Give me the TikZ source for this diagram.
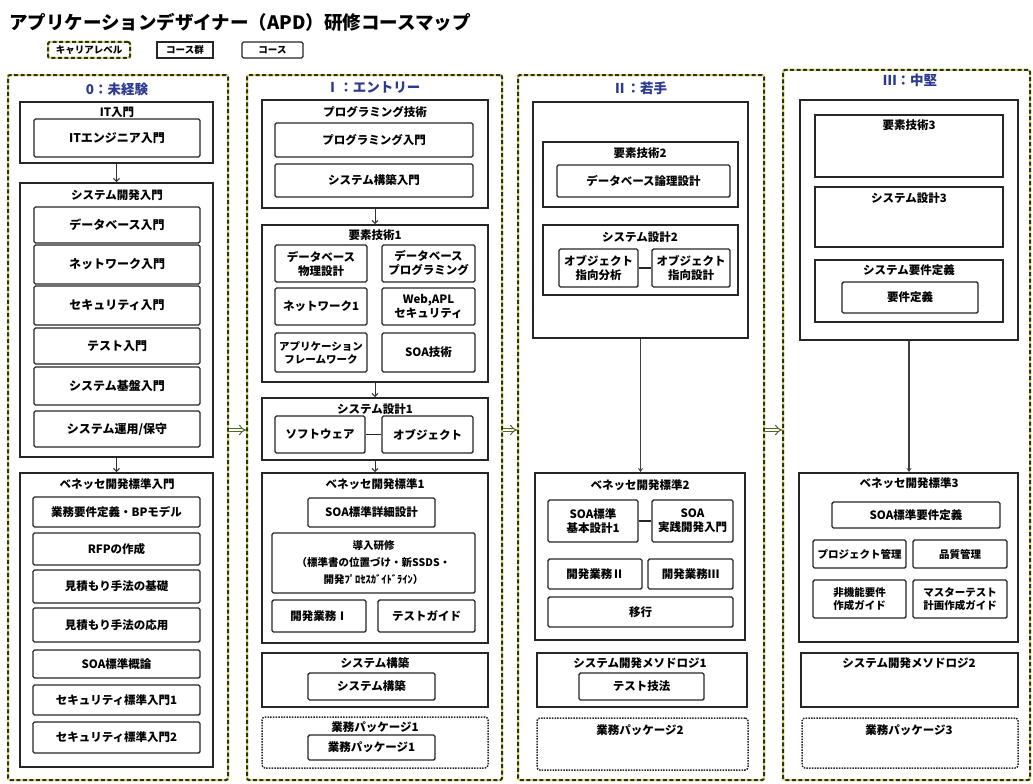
\documentclass[tikz,border=0pt]{standalone}
\usepackage{fontspec}
\setmainfont{Noto Sans CJK JP}
\usetikzlibrary{arrows.meta}
\definecolor{ttlblue}{HTML}{2B3990}
\definecolor{lvldark}{HTML}{2A3318}
\definecolor{lvlyel}{HTML}{E4DC6A}
\definecolor{nxtcol}{HTML}{4C6A22}
\newcommand\bx[7]{\node[#1, minimum width={(#5)-(#3)}, minimum height={(#6)-(#4)}] (#2) at ({((#3)+(#5))/2},{((#4)+(#6))/2}) {#7};}
\tikzset{
  lvl/.style={draw=lvldark, line width=2pt, dash pattern=on 4pt off 2.5pt, rounded corners=2pt,
    preaction={draw=lvlyel, line width=2pt, solid}, inner sep=0pt},
  grp/.style={draw=black!85, line width=1.9pt, fill=white, inner sep=0pt},
  crs/.style={draw=black!85, line width=1.4pt, rounded corners=1.5pt, fill=white, align=center,
    inner sep=0pt, font=\bfseries\fontsize{11.5}{14}\selectfont},
  crsbig/.style={crs, font=\bfseries\fontsize{12}{14}\selectfont},
  crssm/.style={crs, font=\bfseries\fontsize{10.5}{13}\selectfont},
  pkg/.style={draw=black!85, line width=1.5pt, dash pattern=on 1.5pt off 1.2pt, rounded corners=3pt, fill=white, inner sep=0pt},
  glab/.style={font=\bfseries\fontsize{11.5}{13}\selectfont, inner sep=0pt},
  ttl/.style={font=\bfseries\fontsize{13.5}{15}\selectfont, text=ttlblue, inner sep=0pt},
  arr/.style={draw=black!80, line width=1pt, -{Straight Barb[length=3pt,width=6pt]}},
  longarr/.style={draw=black!75, line width=1.5pt, -{Stealth[length=4pt,width=5pt]}},
  link/.style={draw=black!85, line width=1.3pt},
  nxt/.style={draw=nxtcol, line width=1pt, double=white, double distance=2.5pt,
    -{Implies}, shorten <=0pt, shorten >=0pt},
  leg/.style={font=\bfseries\fontsize{9.5}{11}\selectfont, inner sep=0pt}
}
\begin{document}
\begin{tikzpicture}[x=1pt,y=-1pt]
\useasboundingbox[fill=white] (0,0) rectangle (1033,784);
% title
\node[anchor=west, inner sep=0pt, font=\bfseries\fontsize{18.5}{20}\selectfont] (title) at (9,22) {アプリケーションデザイナー（APD）研修コースマップ};
% legend
\bx{lvl, leg}{legl}{48}{42}{130}{58}{キャリアレベル}
\bx{grp, leg}{legg}{157}{42}{213}{58}{コース群}
\bx{crs, leg, line width=1.2pt}{legc}{242}{42}{303}{58}{コース}
% level frames
\bx{lvl}{c0}{8}{75}{228}{780}{}
\bx{lvl}{c1}{247}{75}{502}{780}{}
\bx{lvl}{c2}{518}{75}{764}{780}{}
\bx{lvl}{c3}{783}{70}{1030}{780}{}
\node[ttl] (t0) at (117,89) {0：未経験};
\node[ttl] (t1) at (373,88) {Ⅰ：エントリー};
\node[ttl] (t2) at (640,88) {Ⅱ：若手};
\node[ttl] (t3) at (910,80) {Ⅲ：中堅};
% ---------- column 0
\bx{grp}{g01}{20}{102}{213}{163}{}
\node[glab] (g01l) at (117,112) {IT入門};
\bx{crsbig}{k011}{34}{119}{200}{157}{ITエンジニア入門}
\bx{grp}{g02}{20}{183}{213}{457}{}
\node[glab] (g02l) at (117,195) {システム開発入門};
\bx{crsbig}{k021}{34}{207}{200}{243}{データベース入門}
\bx{crsbig}{k022}{34}{245}{200}{284}{ネットワーク入門}
\bx{crsbig}{k023}{34}{286}{200}{325}{セキュリティ入門}
\bx{crsbig}{k024}{34}{328}{200}{364}{テスト入門}
\bx{crsbig}{k025}{34}{367}{200}{405}{システム基盤入門}
\bx{crsbig}{k026}{34}{411}{200}{447}{システム運用/保守}
\bx{grp}{g03}{20}{473}{213}{767}{}
\node[glab] (g03l) at (117,484) {ベネッセ開発標準入門};
\bx{crs}{k031}{33}{497}{200}{527}{業務要件定義・BPモデル}
\bx{crs}{k032}{33}{533}{200}{565}{RFPの作成}
\bx{crs}{k033}{33}{570}{200}{603}{見積もり手法の基礎}
\bx{crs}{k034}{33}{608}{200}{642}{見積もり手法の応用}
\bx{crs}{k035}{33}{650}{200}{678}{SOA標準概論}
\bx{crs}{k036}{33}{685}{200}{715}{セキュリティ標準入門1}
\bx{crs}{k037}{33}{722}{200}{753}{セキュリティ標準入門2}
\draw[arr] (g01.south) -- (g02.north);
\draw[arr] (g02.south) -- (g03.north);
% ---------- column I
\bx{grp}{g11}{262}{100}{488}{208}{}
\node[glab] (g11l) at (375,112) {プログラミング技術};
\bx{crs}{k111}{275}{123}{473}{157}{プログラミング入門}
\bx{crs}{k112}{275}{164}{473}{197}{システム構築入門}
\bx{grp}{g12}{262}{225}{488}{382}{}
\node[glab] (g12l) at (375,235) {要素技術1};
\bx{crs}{k121}{275}{245}{367}{282}{データベース\\物理設計}
\bx{crs}{k122}{382}{245}{475}{282}{データベース\\プログラミング}
\bx{crs}{k123}{275}{288}{367}{325}{ネットワーク1}
\bx{crs}{k124}{382}{288}{475}{325}{Web,APL\\セキュリティ}
\bx{crssm}{k125}{275}{333}{367}{372}{アプリケーション\\フレームワーク}
\bx{crs}{k126}{382}{333}{475}{372}{SOA技術}
\bx{grp}{g13}{262}{398}{488}{460}{}
\node[glab] (g13l) at (375,409) {システム設計1};
\bx{crs}{k131}{275}{416}{365}{453}{ソフトウェア}
\bx{crs}{k132}{382}{416}{473}{453}{オブジェクト}
\draw[link] (k131) -- (k132);
\bx{grp}{g14}{262}{473}{488}{643}{}
\node[glab] (g14l) at (375,484) {ベネッセ開発標準1};
\bx{crs}{k141}{308}{498}{435}{527}{SOA標準詳細設計}
\bx{crs, font=\bfseries\fontsize{10.5}{17}\selectfont}{k142}{272}{533}{475}{593}{導入研修\\（標準書の位置づけ・新SSDS・\\開発ﾌﾟﾛｾｽｶﾞｲﾄﾞﾗｲﾝ）}
\bx{crs}{k143}{272}{600}{366}{632}{開発業務Ⅰ}
\bx{crs}{k144}{378}{600}{475}{632}{テストガイド}
\bx{grp}{g15}{262}{653}{488}{707}{}
\node[glab] (g15l) at (375,663) {システム構築};
\bx{crs}{k151}{308}{673}{435}{700}{システム構築}
\bx{pkg}{g16}{262}{717}{488}{768}{}
\node[glab] (g16l) at (375,727) {業務パッケージ1};
\bx{crs}{k161}{308}{735}{435}{760}{業務パッケージ1}
\draw[arr] (g11.south) -- (g12.north);
\draw[arr] (g12.south) -- (g13.north);
\draw[arr] (g13.south) -- (g14.north);
% ---------- column II
\bx{grp}{g2o}{533}{102}{748}{338}{}
\bx{grp}{g21}{543}{142}{738}{207}{}
\node[glab] (g21l) at (640,153) {要素技術2};
\bx{crs}{k211}{557}{165}{730}{197}{データベース論理設計}
\bx{grp}{g22}{543}{225}{738}{295}{}
\node[glab] (g22l) at (640,237) {システム設計2};
\bx{crs}{k221}{559}{249}{638}{287}{オブジェクト\\指向分析}
\bx{crs}{k222}{652}{249}{730}{287}{オブジェクト\\指向設計}
\draw[link] (k221) -- (k222);
\bx{grp}{g23}{535}{473}{745}{640}{}
\node[glab] (g23l) at (640,485) {ベネッセ開発標準2};
\bx{crs}{k231}{548}{500}{638}{542}{SOA標準\\基本設計1}
\bx{crs}{k232}{652}{500}{733}{542}{SOA\\実践開発入門}
\draw[link] (k231) -- (k232);
\bx{crs}{k233}{548}{559}{642}{589}{開発業務Ⅱ}
\bx{crs}{k234}{648}{559}{733}{589}{開発業務Ⅲ}
\bx{crs}{k235}{548}{597}{733}{627}{移行}
\bx{grp}{g24}{537}{653}{747}{707}{}
\node[glab] (g24l) at (640,663) {システム開発メソドロジ1};
\bx{crs}{k241}{579}{673}{704}{700}{テスト技法}
\bx{pkg}{g25}{537}{718}{748}{770}{}
\node[glab] (g25l) at (640,730) {業務パッケージ2};
\draw[longarr] (g2o.south) -- (g2o.south |- g23.north);
% ---------- column III
\bx{grp}{g3o}{800}{100}{1018}{340}{}
\bx{grp}{g31}{815}{115}{1003}{177}{}
\node[glab] (g31l) at (909,125) {要素技術3};
\bx{grp}{g32}{815}{187}{1003}{247}{}
\node[glab] (g32l) at (909,198) {システム設計3};
\bx{grp}{g33}{815}{260}{1003}{322}{}
\node[glab] (g33l) at (909,270) {システム要件定義};
\bx{crs}{k331}{842}{282}{978}{313}{要件定義}
\bx{grp}{g34}{799}{473}{1018}{642}{}
\node[glab] (g34l) at (909,483) {ベネッセ開発標準3};
\bx{crs}{k341}{832}{502}{1000}{528}{SOA標準要件定義}
\bx{crssm}{k342}{813}{540}{906}{568}{プロジェクト管理}
\bx{crssm}{k343}{913}{540}{1007}{568}{品質管理}
\bx{crssm}{k344}{813}{580}{906}{618}{非機能要件\\作成ガイド}
\bx{crssm}{k345}{913}{580}{1007}{618}{マスターテスト\\計画作成ガイド}
\bx{grp}{g35}{801}{653}{1018}{707}{}
\node[glab] (g35l) at (909,663) {システム開発メソドロジ2};
\bx{pkg}{g36}{802}{718}{1018}{768}{}
\node[glab] (g36l) at (909,730) {業務パッケージ3};
\draw[longarr] (g3o.south) -- (g3o.south |- g34.north);
% ---------- level transitions
\draw[nxt] (c0.east |- 0,430) -- (c1.west |- 0,430);
\draw[nxt] (c1.east |- 0,430) -- (c2.west |- 0,430);
\draw[nxt] (c2.east |- 0,430) -- (c3.west |- 0,430);
\end{tikzpicture}
\end{document}
